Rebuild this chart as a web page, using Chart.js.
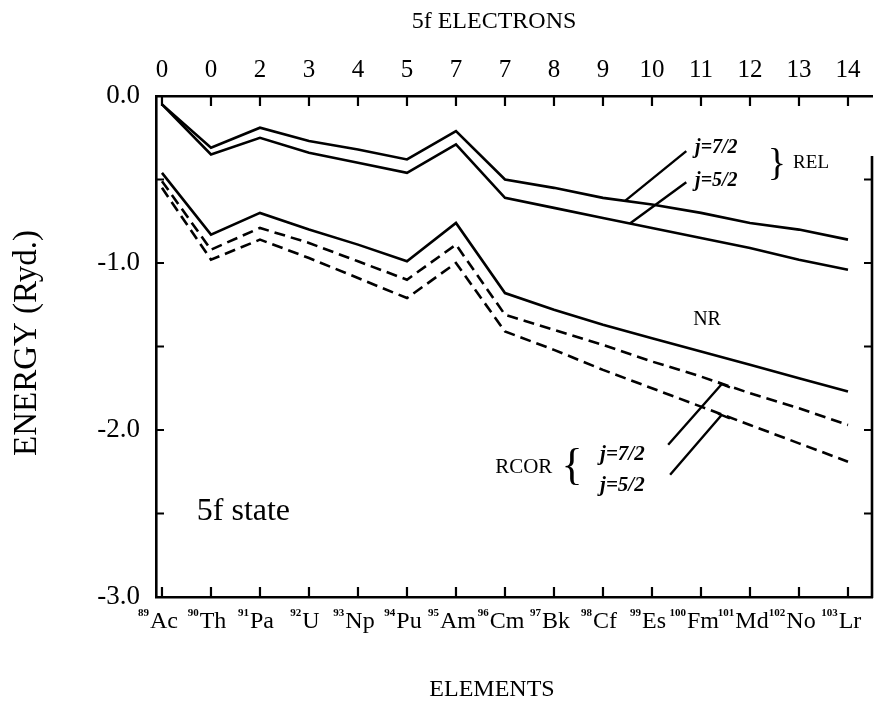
<!DOCTYPE html>
<html>
<head>
<meta charset="utf-8">
<script src="https://cdn.jsdelivr.net/npm/chart.js@4/dist/chart.umd.min.js"></script>
<style>
  html, body { margin: 0; padding: 0; background: #fff; }
  #wrap { width: 877px; height: 704px; }
</style>
</head>
<body>
<div id="wrap"><canvas id="chart" width="877" height="704"></canvas></div>
<script>
// Actinide series, Ac .. Lr
const elements = ['Ac','Th','Pa','U','Np','Pu','Am','Cm','Bk','Cf','Es','Fm','Md','No','Lr'];
const atomicNumbers = ['89','90','91','92','93','94','95','96','97','98','99','100','101','102','103'];
const electronCounts = ['0','0','2','3','4','5','7','7','8','9','10','11','12','13','14'];
const energyTicks = [0, -1, -2, -3];
const energyMinorTicks = [0, -0.5, -1, -1.5, -2, -2.5, -3];

// 5f level energies (Ryd.)
const rel72  = [-0.05, -0.31, -0.19, -0.27, -0.32, -0.38, -0.21, -0.50, -0.55, -0.61, -0.65, -0.70, -0.76, -0.80, -0.86];
const rel52  = [-0.05, -0.35, -0.25, -0.34, -0.40, -0.46, -0.29, -0.61, -0.67, -0.73, -0.79, -0.85, -0.91, -0.98, -1.04];
const nr     = [-0.46, -0.83, -0.70, -0.80, -0.89, -0.99, -0.76, -1.18, -1.28, -1.37, -1.45, -1.53, -1.61, -1.69, -1.77];
const rcor72 = [-0.51, -0.92, -0.79, -0.88, -0.99, -1.10, -0.89, -1.31, -1.40, -1.49, -1.59, -1.68, -1.78, -1.87, -1.97];
const rcor52 = [-0.55, -0.98, -0.86, -0.97, -1.09, -1.21, -1.00, -1.41, -1.52, -1.64, -1.75, -1.86, -1.97, -2.08, -2.19];

const SERIF = "'Liberation Serif', 'DejaVu Serif', serif";
const INK = '#000';
const LINE_W = 2.6;
const DASH = [11, 6];

const series = [
  { label: 'REL j=7/2',  values: rel72,  dash: [] },
  { label: 'REL j=5/2',  values: rel52,  dash: [] },
  { label: 'NR',         values: nr,     dash: [] },
  { label: 'RCOR j=7/2', values: rcor72, dash: DASH },
  { label: 'RCOR j=5/2', values: rcor52, dash: DASH }
];

const X_MIN = -0.122, X_MAX = 14.49;
const elementIndex = elements.map((_, i) => i);
const LABEL_SHIFT = 2;

// labels placed in data coordinates
const notes = [
  { text: '5f state', x: 0.71,  y: -2.49,  font: `32px ${SERIF}`, align: 'left' },
  { text: 'NR',       x: 10.84, y: -1.34,  font: `20px ${SERIF}`, align: 'left' },
  { text: 'REL',      x: 12.88, y: -0.40,  font: `19px ${SERIF}`, align: 'left' },
  { text: '}',        x: 12.55, y: -0.415, font: `38px ${SERIF}`, align: 'center' },
  { text: 'j=7/2',    x: 10.88, y: -0.31,  font: `italic bold 20px ${SERIF}`, align: 'left' },
  { text: 'j=5/2',    x: 10.88, y: -0.505, font: `italic bold 20px ${SERIF}`, align: 'left' },
  { text: 'RCOR',     x: 6.80,  y: -2.226, font: `21px ${SERIF}`, align: 'left' },
  { text: '{',        x: 8.37,  y: -2.226, font: `44px ${SERIF}`, align: 'center' },
  { text: 'j=7/2',    x: 8.94,  y: -2.148, font: `italic bold 21px ${SERIF}`, align: 'left' },
  { text: 'j=5/2',    x: 8.94,  y: -2.334, font: `italic bold 21px ${SERIF}`, align: 'left' }
];

// leader lines from a label to a point on a curve
const leaders = [
  { fx: 10.70, fy: -0.33,  values: rel72,  at: 9.45,  cap: false },
  { fx: 10.70, fy: -0.516, values: rel52,  at: 9.55,  cap: false },
  { fx: 10.33, fy: -2.088, values: rcor72, at: 11.43, cap: true },
  { fx: 10.37, fy: -2.268, values: rcor52, at: 11.43, cap: true }
];

function valueAt(values, x) {
  const i = Math.min(Math.floor(x), values.length - 2);
  const t = x - i;
  return values[i] + (values[i + 1] - values[i]) * t;
}

const framePlugin = {
  id: 'frame',
  afterDraw(chart) {
    const { ctx, chartArea: a, scales } = chart;
    const xs = scales.x, ys = scales.y;
    ctx.save();
    ctx.strokeStyle = INK;
    ctx.fillStyle = INK;
    ctx.lineWidth = 2.2;
    ctx.lineCap = 'butt';

    // inward tick marks
    ctx.beginPath();
    elementIndex.forEach(i => {
      const px = xs.getPixelForValue(i);
      ctx.moveTo(px, a.bottom); ctx.lineTo(px, a.bottom - 10);
      ctx.moveTo(px, a.top);    ctx.lineTo(px, a.top + 10);
    });
    energyMinorTicks.forEach(v => {
      const py = ys.getPixelForValue(v);
      ctx.moveTo(a.left, py); ctx.lineTo(a.left + 8, py);
      if (v <= -0.5 && v > -3) { ctx.moveTo(a.right, py); ctx.lineTo(a.right - 8, py); }
    });
    ctx.stroke();

    // right-hand axis
    ctx.lineWidth = LINE_W;
    ctx.beginPath();
    ctx.moveTo(a.right, ys.getPixelForValue(-0.36));
    ctx.lineTo(a.right, a.bottom + 1);
    ctx.stroke();

    // atomic numbers beside element symbols
    ctx.font = `24px ${SERIF}`;
    const widths = elements.map(e => ctx.measureText(e).width);
    ctx.font = `bold 11px ${SERIF}`;
    ctx.textAlign = 'right';
    ctx.textBaseline = 'top';
    elementIndex.forEach(i => {
      const cx = xs.getPixelForValue(i) + LABEL_SHIFT;
      ctx.fillText(atomicNumbers[i], cx - widths[i] / 2 - 1, a.bottom + 11);
    });

    // axis titles
    ctx.textAlign = 'center';
    ctx.textBaseline = 'middle';
    ctx.font = `24px ${SERIF}`;
    ctx.fillText('5f ELECTRONS', 494, 22);
    ctx.fillText('ELEMENTS', 492, 690);
    ctx.save();
    ctx.translate(27, 343);
    ctx.rotate(-Math.PI / 2);
    ctx.font = `33px ${SERIF}`;
    ctx.fillText('ENERGY (Ryd.)', 0, 0);
    ctx.restore();

    // leader lines
    ctx.lineWidth = 2.4;
    leaders.forEach(l => {
      const x0 = xs.getPixelForValue(l.fx), y0 = ys.getPixelForValue(l.fy);
      const x1 = xs.getPixelForValue(l.at), y1 = ys.getPixelForValue(valueAt(l.values, l.at));
      ctx.beginPath();
      ctx.moveTo(x0, y0); ctx.lineTo(x1, y1);
      if (l.cap) {
        const x2 = xs.getPixelForValue(l.at + 0.16);
        const y2 = ys.getPixelForValue(valueAt(l.values, l.at + 0.16));
        ctx.moveTo(x1 - 4, y1 - 1); ctx.lineTo(x2, y2 + 1);
      }
      ctx.stroke();
    });

    // text labels
    ctx.textBaseline = 'middle';
    notes.forEach(n => {
      ctx.font = n.font;
      ctx.textAlign = n.align;
      ctx.fillText(n.text, xs.getPixelForValue(n.x), ys.getPixelForValue(n.y));
    });
    ctx.restore();
  }
};

new Chart(document.getElementById('chart'), {
  type: 'line',
  data: {
    datasets: series.map(s => ({
      label: s.label,
      data: s.values.map((y, i) => ({ x: i, y })),
      borderColor: INK,
      borderWidth: LINE_W,
      borderDash: s.dash,
      pointRadius: 0,
      fill: false,
      tension: 0,
      xAxisID: 'x',
      yAxisID: 'y'
    }))
  },
  options: {
    responsive: false,
    animation: false,
    devicePixelRatio: 1,
    layout: { padding: { left: 0, right: 5, top: 0, bottom: 0 } },
    plugins: { legend: { display: false }, tooltip: { enabled: false } },
    scales: {
      x: {
        type: 'linear', position: 'bottom', min: X_MIN, max: X_MAX,
        afterBuildTicks: s => { s.ticks = elementIndex.map(v => ({ value: v })); },
        afterFit: s => { s.height = 107; },
        grid: { display: false, drawTicks: false },
        border: { display: true, color: INK, width: LINE_W },
        ticks: {
          callback: v => elements[v] ?? '',
          font: { family: SERIF, size: 24 }, color: INK, padding: 10, labelOffset: LABEL_SHIFT,
          maxRotation: 0, minRotation: 0, autoSkip: false
        }
      },
      x2: {
        type: 'linear', position: 'top', min: X_MIN, max: X_MAX,
        afterBuildTicks: s => { s.ticks = elementIndex.map(v => ({ value: v })); },
        afterFit: s => { s.height = 96; },
        grid: { display: false, drawTicks: false },
        border: { display: true, color: INK, width: LINE_W },
        ticks: {
          callback: v => electronCounts[v] ?? '',
          font: { family: SERIF, size: 25 }, color: INK, padding: 11,
          maxRotation: 0, minRotation: 0, autoSkip: false
        }
      },
      y: {
        type: 'linear', position: 'left', min: -3, max: 0,
        afterBuildTicks: s => { s.ticks = energyTicks.map(v => ({ value: v })); },
        afterFit: s => { s.width = 156; },
        grid: { display: false, drawTicks: false },
        border: { display: true, color: INK, width: LINE_W },
        ticks: {
          callback: v => v.toFixed(1),
          font: { family: SERIF, size: 27 }, color: INK, padding: 16
        }
      }
    }
  },
  plugins: [framePlugin]
});
</script>
</body>
</html>
